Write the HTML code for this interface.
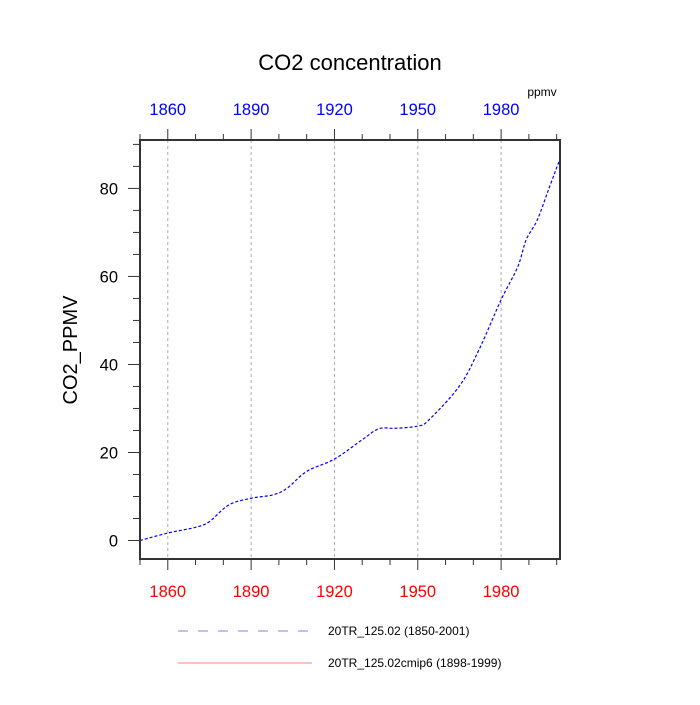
<!DOCTYPE html>
<html><head><meta charset="utf-8"><style>
html,body{margin:0;padding:0;background:#fff}
svg{font-family:"Liberation Sans",sans-serif}
</style></head><body>
<svg id="chart" width="700" height="700" viewBox="0 0 700 700">
<text x="350" y="70" text-anchor="middle" font-size="22">CO2 concentration</text>
<text x="542" y="96" text-anchor="middle" font-size="12">ppmv</text>
<text transform="translate(77,350) rotate(-90)" text-anchor="middle" font-size="20">CO2_PPMV</text>
<g id="grid"></g>
<g id="ticks"></g>
<g id="labels"></g>
<path id="series" fill="none" stroke="#0000ff" stroke-width="1.2" stroke-dasharray="3,2"/>
<rect x="140" y="140" width="420" height="419" fill="none" stroke="#333" stroke-width="2"/>
<g>
<line x1="178" y1="631" x2="312" y2="631" stroke="#8080ff" stroke-width="1" stroke-dasharray="10,10"/>
<text x="328" y="635" font-size="12">20TR_125.02 (1850-2001)</text>
<line x1="178" y1="663" x2="312" y2="663" stroke="#ff8080" stroke-width="1"/>
<text x="328" y="667" font-size="12">20TR_125.02cmip6 (1898-1999)</text>
</g>
</svg>
<script>
const years=[1850,1860,1870,1875,1882,1890,1898,1903,1910,1920,1930,1936,1942,1950,1954,1965,1972,1980,1986,1989,1993,1997,2001];
const values=[0,1.7,3.0,4.3,8.1,9.6,10.4,11.9,15.7,18.5,22.9,25.4,25.5,26.0,27.4,35.1,43.3,54.7,62.2,68.3,72.8,79.6,86.4];
const xTickLabels=[1860,1890,1920,1950,1980];
const yTickLabels=[0,20,40,60,80];
const NS="http://www.w3.org/2000/svg";
const X0=1850,X1=2001.2,px0=140,px1=560;
const Y0=-4.2,Y1=91,py0=559,py1=140;
function xs(v){return px0+(v-X0)/(X1-X0)*(px1-px0);}
function ys(v){return py0-(v-Y0)/(Y1-Y0)*(py0-py1);}
function mk(tag,attrs,parent){const e=document.createElementNS(NS,tag);for(const k in attrs)e.setAttribute(k,attrs[k]);parent.appendChild(e);return e;}
const grid=document.getElementById('grid'),ticks=document.getElementById('ticks'),labels=document.getElementById('labels');
for(const t of xTickLabels){
  const g=mk('line',{x1:xs(t),x2:xs(t),y1:140,y2:559,stroke:'#aaa','stroke-width':1,'stroke-dasharray':'3,3'},grid);
  
  
  const b=mk('text',{x:xs(t),y:597,'text-anchor':'middle','font-size':16.5,fill:'#ff0000'},labels);b.textContent=t;
  
  
  const tp=mk('text',{x:xs(t),y:115,'text-anchor':'middle','font-size':16.5,fill:'#0000ff'},labels);tp.textContent=t;
  
  
}
for(let yr=1850;yr<=2000;yr+=10){
  const major=(yr-1860)%30===0, L=major?11:6;
  const a=mk('line',{x1:xs(yr),x2:xs(yr),y1:559,y2:559+L,stroke:'#333','stroke-width':1},ticks);
  
  
  const b=mk('line',{x1:xs(yr),x2:xs(yr),y1:140,y2:140-L,stroke:'#333','stroke-width':1},ticks);
  
  
}
for(let v=0;v<=90;v+=5){
  const major=v%20===0, L=major?12:7;
  const a=mk('line',{x1:140-L,x2:140,y1:ys(v),y2:ys(v),stroke:'#333','stroke-width':1},ticks);
  
  
}
for(const v of yTickLabels){
  const t=mk('text',{x:118,y:ys(v)+6,'text-anchor':'end','font-size':16.5},labels);t.textContent=v;
  
  
}
const P=years.map((y,i)=>[xs(y),ys(values[i])]);
let d='M'+P[0][0]+','+P[0][1];
for(let i=0;i<P.length-1;i++){
  const p0=P[Math.max(i-1,0)],p1=P[i],p2=P[i+1],p3=P[Math.min(i+2,P.length-1)];
  const c1=[p1[0]+(p2[0]-p0[0])/6,p1[1]+(p2[1]-p0[1])/6];
  const c2=[p2[0]-(p3[0]-p1[0])/6,p2[1]-(p3[1]-p1[1])/6];
  d+=` C${c1[0]},${c1[1]} ${c2[0]},${c2[1]} ${p2[0]},${p2[1]}`;
}
document.getElementById('series').setAttribute('d',d);
</script>
</body></html>
